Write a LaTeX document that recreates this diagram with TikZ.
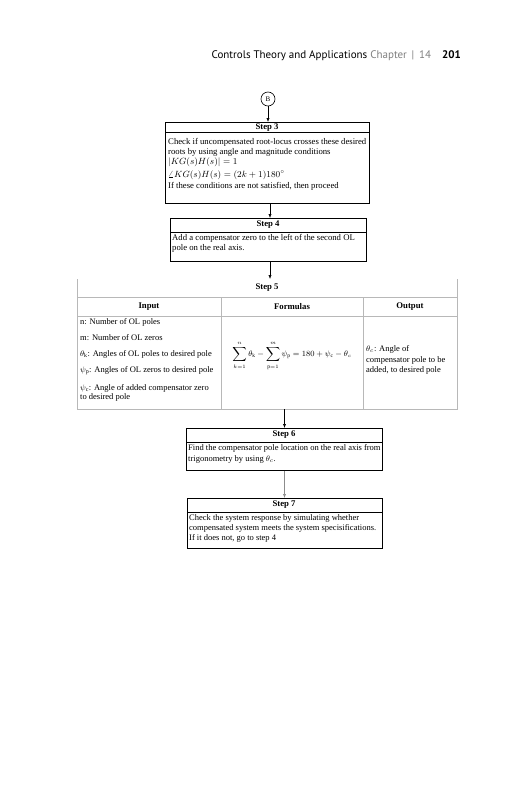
\documentclass[tikz,border=0pt]{standalone}
\usepackage{fontspec}
\setmainfont{Liberation Serif}
\newfontfamily\headfont{PT Sans}
\usetikzlibrary{arrows.meta}
\begin{document}
\begin{tikzpicture}[x=1pt,y=-1pt,
  box/.style={draw=black, line width=0.8pt, inner sep=0pt, anchor=north west},
  txt/.style={anchor=mid west, inner sep=0pt, font=\fontsize{8.5}{10}\selectfont},
  bigtxt/.style={anchor=mid west, inner sep=0pt, font=\fontsize{8.7}{10}\selectfont},
  hd/.style={inner sep=0pt, font=\fontsize{8.7}{10}\selectfont\bfseries},
  arr/.style={-{Latex[length=4pt,width=3.2pt]}, line width=0.6pt},
  gridline/.style={draw=black!28, line width=0.6pt}]
\useasboundingbox (0,0) rectangle (531,800);

% running head
\node[anchor=base east, inner sep=0pt, font=\headfont\fontsize{11}{13}\selectfont] (head) at (461,59)
  {Controls Theory and Applications \textcolor{black!50}{Chapter \,|\, 14}\quad\textbf{201}};

% connector B
\node[draw, circle, minimum size=14pt, inner sep=0pt, line width=0.6pt, font=\fontsize{7}{8}\selectfont] (B) at (268,99) {B};

% Step 3
\node[box, minimum width=204pt, minimum height=81pt] (s3) at (165,122) {};
\draw[line width=0.8pt] (165,132.5) -- (369,132.5);
\node[hd] (s3h) at (267,127.5) {Step 3};
\node[bigtxt] (s3a) at (168,142) {Check if uncompensated root-locus crosses these desired};
\node[bigtxt] (s3b) at (168,152) {roots by using angle and magnitude conditions};
\node[bigtxt] (s3c) at (168,162) {$|KG(s)H(s)| = 1$};
\node[bigtxt] (s3d) at (168,175) {$\angle KG(s)H(s) = (2k+1)180^\circ$};
\node[bigtxt] (s3e) at (168,186) {If these conditions are not satisfied, then proceed};

% Step 4
\node[box, minimum width=196pt, minimum height=43pt] (s4) at (170,218) {};
\draw[line width=0.8pt] (170,232) -- (366,232);
\node[hd] (s4h) at (268,225) {Step 4};
\node[bigtxt] (s4a) at (172,238) {Add a compensator zero to the left of the second OL};
\node[bigtxt] (s4b) at (172,248) {pole on the real axis.};

% Step 5 table
\node[inner sep=0pt, anchor=north west, minimum width=380pt, minimum height=130pt] (tbl) at (77,279) {};
\draw[gridline] (77,279) -- (77,409) -- (457,409) -- (457,279);
\draw[gridline] (77,297) -- (457,297);
\draw[gridline] (77,316) -- (457,316);
\draw[gridline] (221,297) -- (221,409);
\draw[gridline] (363,297) -- (363,409);
\node[hd] (s5h) at (267,288) {Step 5};
\node[hd] (cin) at (149,306.5) {Input};
\node[hd] (cfo) at (292,306.5) {Formulas};
\node[hd] (cout) at (410,306.5) {Output};
\node[txt] (i1) at (80,322) {n: Number of OL poles};
\node[txt] (i2) at (80,338) {m: Number of OL zeros};
\node[txt] (i3) at (80,354) {$\theta_{\mathrm{k}}$: Angles of OL poles to desired pole};
\node[txt] (i4) at (80,370) {$\psi_{\mathrm{p}}$: Angles of OL zeros to desired pole};
\node[txt] (i5) at (80,388) {$\psi_{\mathrm{c}}$: Angle of added compensator zero};
\node[txt] (i6) at (80,397.5) {to desired pole};
\node[inner sep=0pt, font=\fontsize{7.8}{9}\selectfont] (form) at (292,356)
  {$\displaystyle\sum_{k=1}^{n}\theta_{\mathrm{k}}-\sum_{\mathrm{p}=1}^{m}\psi_{\mathrm{p}} = 180+\psi_{\mathrm{c}}-\theta_c$};
\node[txt] (o1) at (366,349) {$\theta_c$: Angle of};
\node[txt] (o2) at (366,360) {compensator pole to be};
\node[txt] (o3) at (366,370) {added, to desired pole};

% Step 6
\node[box, minimum width=196pt, minimum height=42pt] (s6) at (186,428) {};
\draw[line width=0.8pt] (186,442) -- (382,442);
\node[hd] (s6h) at (284,435) {Step 6};
\node[txt] (s6a) at (188,448) {Find the compensator pole location on the real axis from};
\node[txt] (s6b) at (188,459) {trigonometry by using $\theta_c$.};

% Step 7
\node[box, minimum width=195pt, minimum height=50pt] (s7) at (187,498) {};
\draw[line width=0.8pt] (187,512) -- (382,512);
\node[hd] (s7h) at (284,505) {Step 7};
\node[txt] (s7a) at (189,518) {Check the system response by simulating whether};
\node[txt] (s7b) at (189,528) {compensated system meets the system specisifications.};
\node[txt] (s7c) at (189,538) {If it does not, go to step 4};

% connectors
\coordinate (xa) at (268,0);
\coordinate (xb) at (270,0);
\coordinate (xc) at (284.5,0);
\draw[arr] (B.south) -- (s3.north -| xa);
\draw[arr] (s3.south -| xb) -- (s4.north -| xb);
\draw[arr] (s4.south -| xb) -- (tbl.north -| xb);
\draw[arr] (tbl.south -| xc) -- (s6.north -| xc);
\draw[arr, draw=black!45, fill=black!45] (s6.south -| xc) -- (s7.north -| xc);
\end{tikzpicture}
\end{document}
